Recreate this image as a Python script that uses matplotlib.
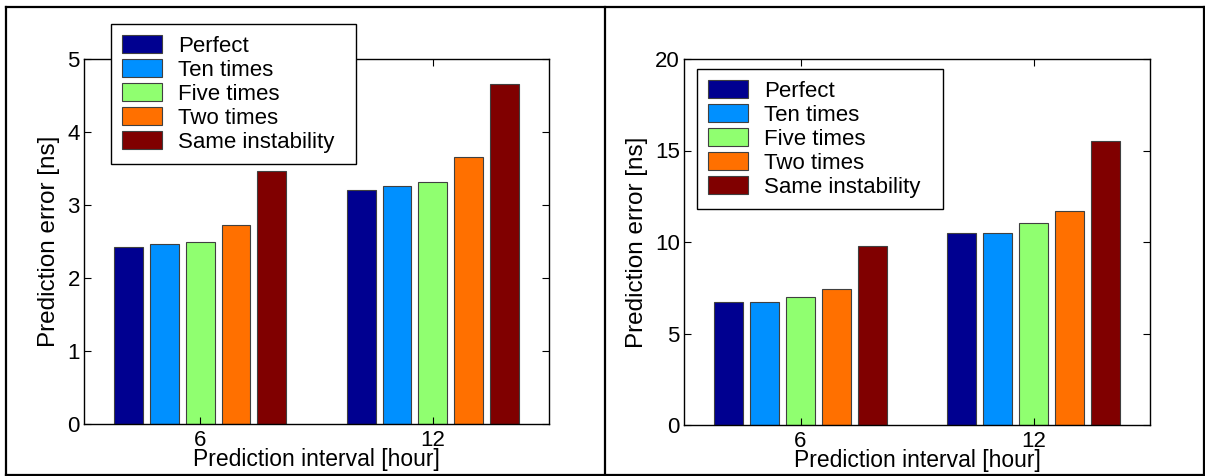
#!/usr/bin/env python3
"""
Prediction error vs prediction interval, two panels with grouped bars.
"""

import matplotlib
matplotlib.use('Agg')
import matplotlib.pyplot as plt
import numpy as np
from matplotlib.lines import Line2D

plt.rcParams['font.family'] = ['Liberation Sans', 'DejaVu Sans']

# Data
intervals = ['6', '12']
series = ['Perfect', 'Ten times', 'Five times', 'Two times', 'Same instability']
left_values = [
    [2.43, 3.20],
    [2.47, 3.26],
    [2.50, 3.32],
    [2.73, 3.66],
    [3.47, 4.66],
]
right_values = [
    [6.70, 10.50],
    [6.70, 10.50],
    [7.00, 11.05],
    [7.45, 11.70],
    [9.80, 15.50],
]
left_yticks = [0, 1, 2, 3, 4, 5]
right_yticks = [0, 5, 10, 15, 20]

colors = ['#000090', '#0090ff', '#90ff70', '#ff7000', '#800000']

W, H = 1205, 476
TICK_FS = 16
LEG_FS = 16
XLAB_FS = 16.5
YLAB_FS = 17.5


def px_rect(x0, y_top, x1, y_bot):
    return [x0 / W, 1 - y_bot / H, (x1 - x0) / W, (y_bot - y_top) / H]


def draw_panel(ax, values, yticks, legend_box):
    x = np.arange(1, len(intervals) + 1)
    n = len(series)
    group_w = min(0.8, n / (n + 1.5))
    step = group_w / n
    width = step * 0.8
    handles = []
    for i, (name, vals) in enumerate(zip(series, values)):
        offset = (i - (n - 1) / 2) * step
        b = ax.bar(x + offset, vals, width=width, color=colors[i],
                   edgecolor='#404040', linewidth=0.8, label=name)
        handles.append(b)

    ax.set_xlim(0.5, 2.5)
    ax.set_ylim(yticks[0], yticks[-1])
    ax.set_xticks(x)
    ax.set_xticklabels(intervals)
    ax.set_yticks(yticks)
    ax.tick_params(direction='in', length=5, width=0.8, top=True, right=True,
                   labelsize=TICK_FS, colors='black')
    ax.tick_params(axis='x', pad=4)
    ax.tick_params(axis='y', pad=3)
    for s in ax.spines.values():
        s.set_linewidth(1.0)
        s.set_color('black')
    ax.set_xlabel('Prediction interval [hour]', fontsize=XLAB_FS, labelpad=-2)
    ax.set_ylabel('Prediction error [ns]', fontsize=YLAB_FS, labelpad=5)

    # legend box given in pixels: left, top, right, bottom
    lx0, ly0, lx1, ly1 = legend_box
    anchor = (lx0 / W, 1 - ly1 / H, (lx1 - lx0) / W, (ly1 - ly0) / H)
    leg = ax.legend(handles=handles, loc='upper left', mode='expand',
                    bbox_to_anchor=anchor,
                    bbox_transform=ax.figure.transFigure,
                    fontsize=LEG_FS, frameon=True, fancybox=False,
                    edgecolor='black', framealpha=1.0,
                    handlelength=1.8, handleheight=0.86, handletextpad=0.7,
                    labelspacing=0.11, borderpad=0.5, borderaxespad=0)
    leg.get_frame().set_linewidth(1.0)
    leg.set_zorder(10)


fig = plt.figure(figsize=(W / 100, H / 100), dpi=100)

ax1 = fig.add_axes(px_rect(84, 59, 549, 424))
ax2 = fig.add_axes(px_rect(684, 59, 1150, 425))

draw_panel(ax1, left_values, left_yticks, (111, 24, 356, 164))
draw_panel(ax2, right_values, right_yticks, (697, 69, 943, 210))

# Outer frame and divider, like a table cell border
frame_kw = dict(color='black', linewidth=1.6, transform=fig.transFigure)
x_l, x_r, x_m = 5.5 / W, 1203.5 / W, 605 / W
y_t, y_b = 1 - 7 / H, 1 - 474.5 / H
fig.add_artist(Line2D([x_l, x_r], [y_t, y_t], **frame_kw))
fig.add_artist(Line2D([x_l, x_r], [y_b, y_b], **frame_kw))
fig.add_artist(Line2D([x_l, x_l], [y_b, y_t], **frame_kw))
fig.add_artist(Line2D([x_r, x_r], [y_b, y_t], **frame_kw))
fig.add_artist(Line2D([x_m, x_m], [y_b, y_t], **frame_kw))

fig.savefig('out.png', dpi=100, facecolor='white')
plt.close(fig)
